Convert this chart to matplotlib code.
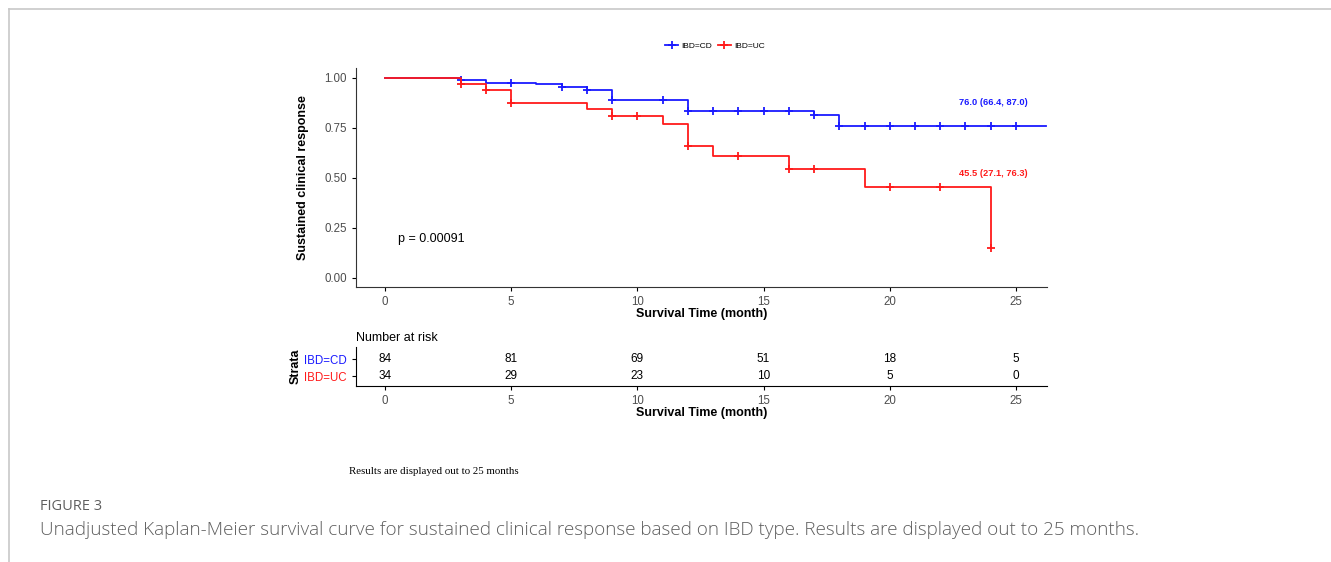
import numpy as np
import matplotlib
matplotlib.use("Agg")
import matplotlib.pyplot as plt
from matplotlib.lines import Line2D

plt.rcParams["font.family"] = ["Liberation Sans", "DejaVu Sans"]

# Kaplan-Meier steps
cd_time = [0, 3, 4, 6, 7, 8, 9, 12, 17, 18]
cd_surv = [1.0, 0.988, 0.976, 0.970, 0.955, 0.940, 0.888, 0.836, 0.816, 0.760]
cd_end = 26.2
cd_censor = [3, 5, 7, 8, 9, 11, 12, 13, 14, 15, 16, 17, 18, 19, 20, 21, 22, 23, 24, 25]

uc_time = [0, 3, 4, 5, 8, 9, 11, 12, 13, 16, 19, 24]
uc_surv = [1.0, 0.971, 0.940, 0.876, 0.843, 0.808, 0.771, 0.660, 0.608, 0.547, 0.456, 0.15]
uc_end = 24
uc_censor = [3, 4, 5, 9, 10, 12, 14, 16, 17, 20, 22, 24]

risk_times = [0, 5, 10, 15, 20, 25]
risk_cd = [84, 81, 69, 51, 18, 5]
risk_uc = [34, 29, 23, 10, 5, 0]

cd_label = "76.0 (66.4, 87.0)"
uc_label = "45.5 (27.1, 76.3)"
p_text = "p = 0.00091"

BLUE = "#1a1aff"
RED = "#ff1a1a"
GREY = "#4d4d4d"

W, H = 1331, 562
fig = plt.figure(figsize=(W / 100, H / 100), dpi=100)


def px_axes(l, t, r, b):
    return fig.add_axes([l / W, 1 - b / H, (r - l) / W, (b - t) / H])


def surv_at(times, surv, t):
    idx = np.searchsorted(times, t, side="right") - 1
    return np.asarray(surv)[idx]


# frame of the page
fig.add_artist(Line2D([9 / W, 9 / W], [0, 1 - 9 / H], color="#c8c8c8", lw=1.2))
fig.add_artist(Line2D([9 / W, 1], [1 - 9 / H, 1 - 9 / H], color="#c8c8c8", lw=1.2))

# main survival plot
ax = px_axes(356, 68, 1047, 287)
x0, x1 = -1.149, 26.23
ax.set_xlim(x0, x1)
ax.set_ylim(-0.045, 1.05)

for times, surv, end, cens, col in [(cd_time, cd_surv, cd_end, cd_censor, BLUE),
                                    (uc_time, uc_surv, uc_end, uc_censor, RED)]:
    tt = list(times) + [end]
    ss = list(surv) + [surv[-1]]
    ax.step(tt, ss, where="post", color=col, lw=1.3)
    ax.plot(cens, surv_at(times, surv, cens), "+", color=col, ms=6, mew=1.3)

ax.text(24.1, 0.875, cd_label, color=BLUE, fontsize=6.7, fontweight="bold", ha="center", va="center")
ax.text(24.1, 0.52, uc_label, color=RED, fontsize=6.7, fontweight="bold", ha="center", va="center")
ax.text(0.5, 0.195, p_text, fontsize=9, ha="left", va="center")

ax.set_xticks(risk_times)
ax.set_yticks([0, 0.25, 0.5, 0.75, 1.0])
ax.set_yticklabels(["0.00", "0.25", "0.50", "0.75", "1.00"])
ax.tick_params(labelsize=8.3, colors="black", labelcolor=GREY, length=3)
for s in ["top", "right"]:
    ax.spines[s].set_visible(False)
ax.spines["left"].set_color("#333333")
ax.spines["bottom"].set_color("#333333")
ax.set_xlabel("Survival Time (month)", fontsize=9, fontweight="bold", labelpad=0)
ax.set_ylabel("Sustained clinical response", fontsize=9, fontweight="bold", labelpad=11)

handles = [Line2D([], [], color=BLUE, marker="+", lw=1.3, ms=6, mew=1.3),
           Line2D([], [], color=RED, marker="+", lw=1.3, ms=6, mew=1.3)]
fig.legend(handles, ["IBD=CD", "IBD=UC"], loc="center", bbox_to_anchor=(715 / W, 1 - 46 / H),
           ncol=2, frameon=False, fontsize=6, handlelength=1.6, columnspacing=0.6, handletextpad=0.4)

# number at risk table
rk = px_axes(356, 347, 1047, 386)
rk.set_xlim(x0, x1)
rk.set_ylim(-0.588, 1.706)
for t, a, b in zip(risk_times, risk_cd, risk_uc):
    rk.text(t, 1, str(a), ha="center", va="center", fontsize=8.5)
    rk.text(t, 0, str(b), ha="center", va="center", fontsize=8.5)
rk.set_yticks([1, 0])
rk.set_yticklabels(["IBD=CD", "IBD=UC"])
for lab, col in zip(rk.get_yticklabels(), [BLUE, RED]):
    lab.set_color(col)
rk.set_xticks(risk_times)
rk.tick_params(labelsize=8.3, length=3)
rk.tick_params(axis="x", labelcolor=GREY)
for s in ["top", "right"]:
    rk.spines[s].set_visible(False)
rk.set_xlabel("Survival Time (month)", fontsize=9, fontweight="bold", labelpad=0)
rk.set_ylabel("Strata", fontsize=9, fontweight="bold", labelpad=2)
rk.set_title("Number at risk", loc="left", fontsize=9, pad=4)

fig.text(434 / W, 1 - 472 / H, "Results are displayed out to 25 months", family="Liberation Serif",
         fontsize=7.8, ha="center", va="center")
fig.text(40 / W, 1 - 506 / H, "FIGURE 3", fontsize=10.5, color="#5f5f5f", family="Open Sans",
         ha="left", va="center")
fig.text(40 / W, 1 - 530 / H,
         "Unadjusted Kaplan-Meier survival curve for sustained clinical response based on IBD type. "
         "Results are displayed out to 25 months.",
         fontsize=13.6, color="#5f5f5f", family="Open Sans", fontweight="light", ha="left", va="center")

fig.savefig("out.png", dpi=100)
